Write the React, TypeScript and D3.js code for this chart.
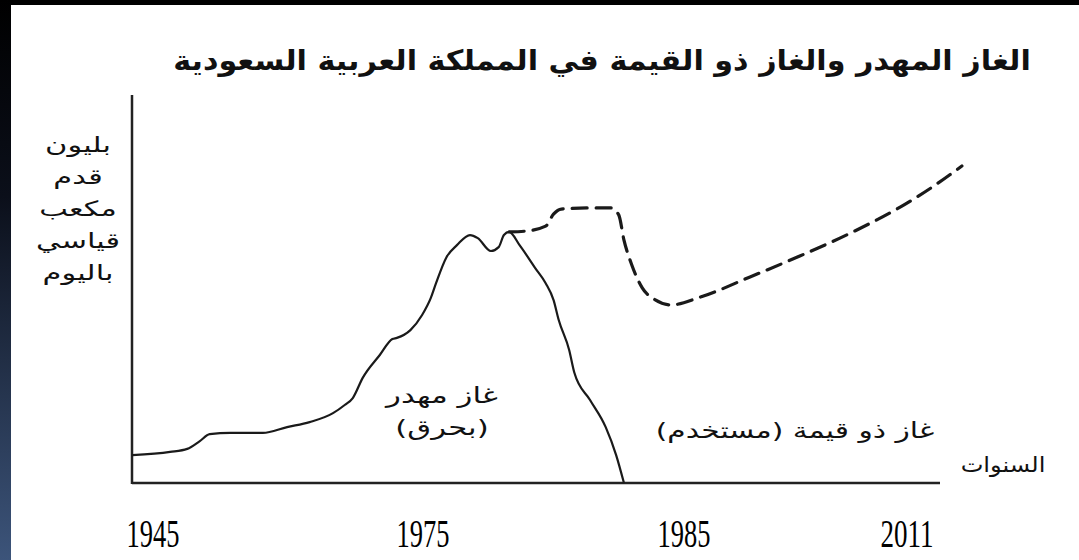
import React from 'react';
import * as d3 from 'd3';

// x labels (years) — the original axis is not proportional, so a piecewise scale is used
const yearTicks = [1945, 1975, 1985, 2011];

// flared gas (solid) — [year, billion scf/day, arbitrary units]
const flaredYears = [1942.7, 1946.9, 1948.8, 1950.2, 1951.3, 1953.6, 1957.2, 1959.9, 1962.4, 1965.0, 1966.3, 1967.2, 1968.3, 1970.2, 1971.6, 1972.1, 1973.6, 1974.9, 1975.3, 1975.5, 1975.9, 1976.3, 1976.8, 1977.1, 1977.6, 1977.9, 1978.1, 1978.3, 1978.7, 1979.3, 1979.7, 1980.0, 1980.2, 1980.6, 1980.8, 1981.4, 1982.0, 1982.4, 1982.7];
const flaredValues = [0.72, 0.8, 0.88, 1.08, 1.26, 1.29, 1.29, 1.44, 1.57, 1.8, 2.01, 2.19, 2.71, 3.3, 3.71, 3.74, 3.94, 4.33, 4.77, 5.15, 5.82, 6.13, 6.39, 6.31, 5.98, 6.08, 6.39, 6.47, 6.13, 5.54, 5.15, 4.72, 4.2, 3.43, 2.84, 2.14, 1.44, 0.72, 0];

// utilised gas (dashed)
const usedYears = [1978.3, 1978.9, 1979.7, 1980.0, 1980.3, 1981.4, 1982.2, 1982.5, 1982.7, 1983.0, 1983.4, 1983.9, 1984.5, 1986.9, 1992.7, 1998.5, 2004.4, 2010.2, 2014.3, 2017.4];
const usedValues = [6.47, 6.49, 6.62, 6.93, 7.06, 7.09, 7.09, 6.91, 6.26, 5.62, 5.03, 4.72, 4.59, 4.79, 5.31, 5.85, 6.44, 7.11, 7.68, 8.17];

const title = 'الغاز المهدر والغاز ذو القيمة في المملكة العربية السعودية';
const yLabelLines = ['بليون', 'قدم', 'مكعب', 'قياسي', 'باليوم'];
const xLabel = 'السنوات';
const flaredLabel = ['غاز مهدر', '(بحرق)'];
const usedLabel = 'غاز ذو قيمة (مستخدم)';

const W = 1079;
const H = 560;
const plotLeft = 132;
const plotRight = 940;
const plotTop = 95;
const plotBottom = 483;

const arabicFont = '"DejaVu Sans", "Liberation Sans", sans-serif';

// the source used a wider Arabic face, so glyphs get stretched horizontally
function ArText({ cx, y, size, sx, bold, children }: { cx: number; y: number; size: number; sx: number; bold?: boolean; children: string }) {
  return (
    <text
      transform={`translate(${cx},${y}) scale(${sx},1)`}
      textAnchor="middle"
      direction="rtl"
      fontFamily={arabicFont}
      fontWeight={bold ? 'bold' : 'normal'}
      fontSize={size}
      fill="#111"
    >
      {children}
    </text>
  );
}

export default function App() {
  const x = d3.scaleLinear().domain(yearTicks).range([153, 423, 684, 907]);
  const y = d3.scaleLinear().domain([0, 10]).range([plotBottom, plotTop]);

  const line = d3
    .line<[number, number]>()
    .x((d) => x(d[0]))
    .y((d) => y(d[1]))
    .curve(d3.curveMonotoneX);

  const flared = flaredYears.map((yr, i) => [yr, flaredValues[i]] as [number, number]);
  const used = usedYears.map((yr, i) => [yr, usedValues[i]] as [number, number]);

  return (
    <svg width={W} height={H} style={{ position: 'absolute', left: 0, top: 0, background: '#fff' }}>
      <defs>
        <linearGradient id="edge" x1="0" y1="0" x2="0" y2="1">
          <stop offset="0%" stopColor="#000" />
          <stop offset="35%" stopColor="#0b0f1a" />
          <stop offset="100%" stopColor="#3c547a" />
        </linearGradient>
      </defs>
      <rect x={0} y={0} width={W} height={H} fill="#fff" />
      <rect x={0} y={0} width={W} height={5} fill="#000" />
      <rect x={0} y={0} width={11} height={H} fill="url(#edge)" />

      {/* title */}
      <ArText cx={602} y={70} size={28} sx={1.08} bold>
        {title}
      </ArText>

      {/* y label */}
      {yLabelLines.map((t, i) => (
        <ArText key={t} cx={78} y={152 + i * 32} size={21} sx={1.45}>
          {t}
        </ArText>
      ))}

      {/* axes */}
      <line x1={plotLeft} x2={plotLeft} y1={plotTop} y2={plotBottom + 1} stroke="#222" strokeWidth={2.5} />
      <line x1={plotLeft} x2={plotRight} y1={plotBottom} y2={plotBottom} stroke="#222" strokeWidth={2.5} />

      {/* series */}
      <path d={line(flared) || ''} fill="none" stroke="#1a1a1a" strokeWidth={2.2} strokeLinejoin="round" />
      <path
        d={line(used) || ''}
        fill="none"
        stroke="#1a1a1a"
        strokeWidth={3.2}
        strokeDasharray="15 9"
        strokeLinecap="round"
      />

      {/* year labels */}
      {yearTicks.map((yr) => (
        <text
          key={yr}
          x={x(yr)}
          y={547}
          textAnchor="middle"
          fontFamily='"Liberation Serif", "Times New Roman", serif'
          fontSize={40}
          textLength={53}
          lengthAdjust="spacingAndGlyphs"
          fill="#000"
        >
          {yr}
        </text>
      ))}

      <ArText cx={1003} y={472} size={21} sx={1.15}>
        {xLabel}
      </ArText>

      {flaredLabel.map((t, i) => (
        <ArText key={t} cx={442} y={403 + i * 32} size={22} sx={1.4}>
          {t}
        </ArText>
      ))}

      <ArText cx={795} y={438} size={22} sx={1.35}>
        {usedLabel}
      </ArText>
    </svg>
  );
}
